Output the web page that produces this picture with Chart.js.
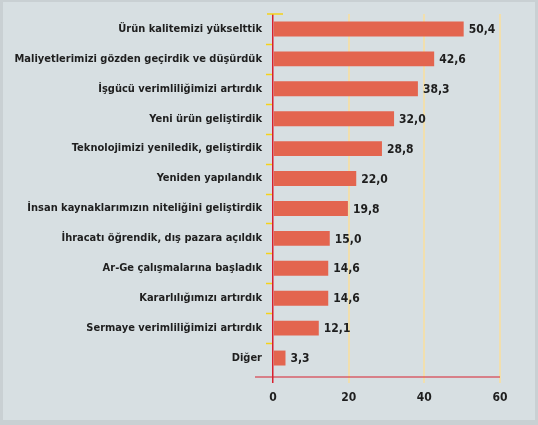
<!DOCTYPE html>
<html>
<head>
<meta charset="utf-8">
<script src="https://cdn.jsdelivr.net/npm/chart.js@4.4.1/dist/chart.umd.min.js"></script>
<style>
  html,body{margin:0;padding:0;background:#c9d0d3;}
  #wrap{width:538px;height:425px;position:relative;}
</style>
</head>
<body>
<div id="wrap"><canvas id="bar-chart" width="538" height="425"></canvas></div>
<script>
// survey answers, percent
var categories=[
  'Ürün kalitemizi yükselttik',
  'Maliyetlerimizi gözden geçirdik ve düşürdük',
  'İşgücü verimliliğimizi artırdık',
  'Yeni ürün geliştirdik',
  'Teknolojimizi yeniledik, geliştirdik',
  'Yeniden yapılandık',
  'İnsan kaynaklarımızın niteliğini geliştirdik',
  'İhracatı öğrendik, dış pazara açıldık',
  'Ar-Ge çalışmalarına başladık',
  'Kararlılığımızı artırdık',
  'Sermaye verimliliğimizi artırdık',
  'Diğer'
];
var values=[50.4,42.6,38.3,32.0,28.8,22.0,19.8,15.0,14.6,14.6,12.1,3.3];
var xTicks=[0,20,40,60];

var fontFam='"DejaVu Sans Condensed",sans-serif';
var red='#d8202e';

var bgPlugin={
  id:'bg',
  beforeDraw:function(chart){
    var c=chart.ctx;
    c.save();
    c.fillStyle='#d7dfe2';
    c.fillRect(3,2,532,418);
    c.restore();
  }
};

var extras={
  id:'extras',
  afterDraw:function(chart){
    var c=chart.ctx, a=chart.chartArea, xs=chart.scales.x;
    var step=(a.bottom-a.top)/categories.length;
    c.save();
    // yellow marks between the categories
    c.strokeStyle='#f5d21a';c.lineWidth=1.5;
    c.beginPath();c.moveTo(a.left-6,a.top);c.lineTo(a.left+10,a.top);c.stroke();
    for(var i=1;i<categories.length;i++){
      var y=Math.round(a.top+i*step)+0.5;
      c.beginPath();c.moveTo(a.left-7,y);c.lineTo(a.left-1,y);c.stroke();
    }
    // red baseline
    c.strokeStyle=red;c.lineWidth=1.2;
    c.beginPath();c.moveTo(a.left-18,a.bottom+4);c.lineTo(xs.getPixelForValue(60),a.bottom+4);c.stroke();
    // value labels
    c.fillStyle='#1e1e1e';
    c.font='bold 12px '+fontFam;
    c.textBaseline='middle';
    var meta=chart.getDatasetMeta(0);
    meta.data.forEach(function(bar,i){
      c.fillText(values[i].toFixed(1).replace('.',','),bar.x+5,bar.y+1);
    });
    c.restore();
  }
};

var ctx=document.getElementById('bar-chart').getContext('2d');
var myChart=new Chart(ctx,{
  type:'bar',
  data:{
    labels:categories,
    datasets:[{
      data:values,
      backgroundColor:'#e3654f',
      barPercentage:0.5,
      categoryPercentage:1
    }]
  },
  options:{
    indexAxis:'y',
    responsive:false,
    animation:false,
    layout:{padding:{top:14,right:38,left:0,bottom:0}},
    plugins:{legend:{display:false},tooltip:{enabled:false}},
    scales:{
      x:{
        min:0,max:60,
        afterBuildTicks:function(s){s.ticks=xTicks.map(function(v){return {value:v};});},
        afterFit:function(s){s.height=52;s.paddingLeft=0;s.paddingRight=0;},
        border:{display:false},
        grid:{
          color:function(c){return c.tick&&c.tick.value===0?red:'#f1dfae';},
          lineWidth:function(c){return c.tick&&c.tick.value===0?1.5:2;},
          tickLength:10
        },
        ticks:{color:'#1e1e1e',font:{family:fontFam,size:12,weight:'bold'},padding:8}
      },
      y:{
        afterFit:function(s){s.width=273;s.paddingTop=0;s.paddingBottom=0;},
        border:{display:false},
        grid:{display:false},
        ticks:{color:'#1e1e1e',font:{family:fontFam,size:11,weight:'bold'},padding:3,autoSkip:false}
      }
    }
  },
  plugins:[bgPlugin,extras]
});
</script>
</body>
</html>
